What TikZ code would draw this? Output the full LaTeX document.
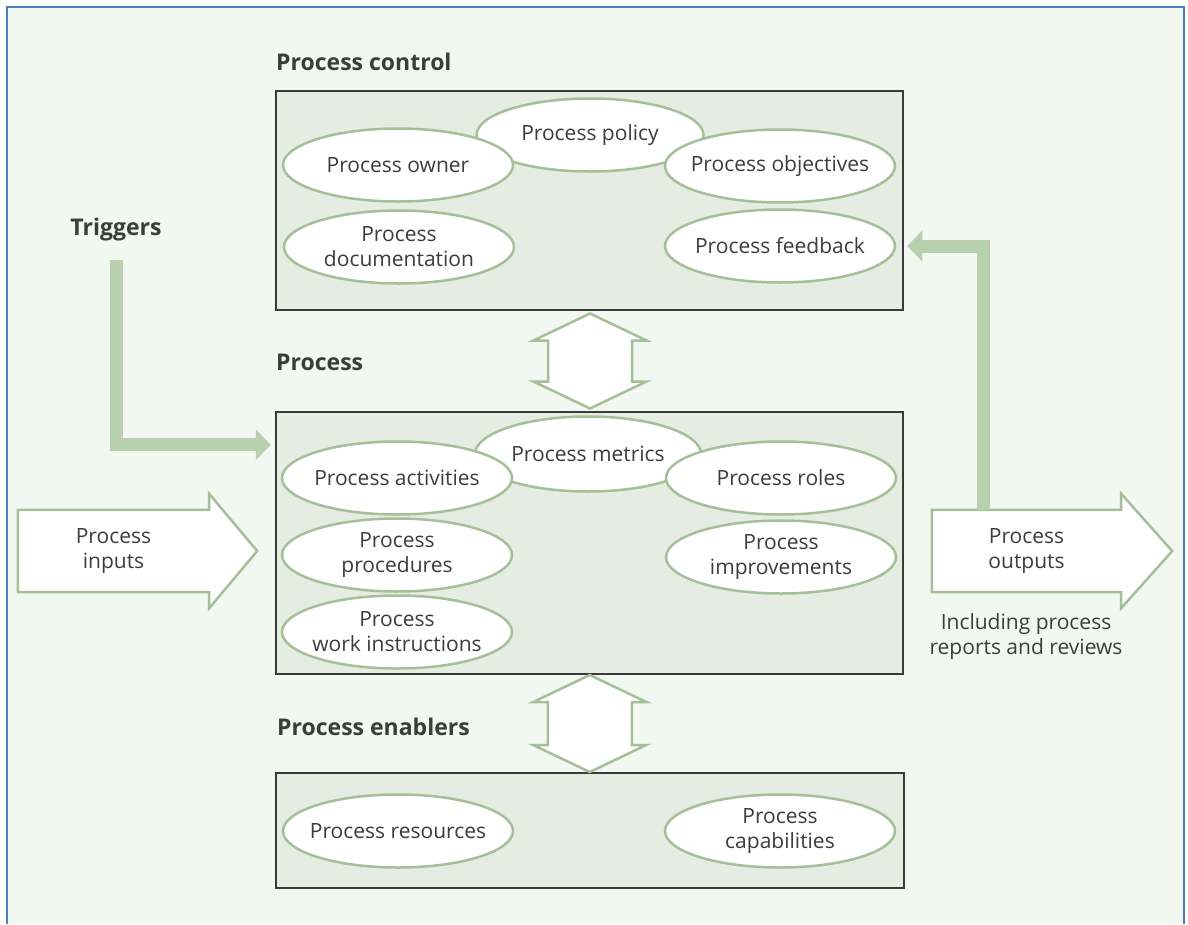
\documentclass[tikz,border=0pt]{standalone}
\usepackage{fontspec}
\setmainfont{Open Sans}
\usetikzlibrary{shapes.geometric,arrows.meta,calc,backgrounds}

\definecolor{pagebg}{HTML}{F2F7F1}
\definecolor{boxfill}{HTML}{E5EDE2}
\definecolor{boxline}{HTML}{3A3A3A}
\definecolor{ovalline}{HTML}{A5BF98}
\definecolor{flowgreen}{HTML}{B9D0AE}
\definecolor{txtgrey}{HTML}{3C3C3C}
\definecolor{framebl}{HTML}{4A7EBB}

\tikzset{
  panel/.style={draw=boxline,fill=boxfill,line width=2.5pt,inner sep=0pt},
  oval/.style={ellipse,draw=ovalline,fill=white,line width=2.5pt,minimum width=230pt,
    minimum height=73pt,inner xsep=-14pt,inner ysep=-10pt,align=center},
  heading/.style={anchor=west,font=\fontsize{23}{27}\selectfont\bfseries,inner sep=0pt},
  bigarrow/.style={draw=ovalline,fill=white,line width=2.5pt},
  flowline/.style={draw=flowgreen,line width=13pt,-{Triangle[width=30pt,length=15pt]}},
}

\begin{document}
\begin{tikzpicture}[x=1pt,y=-1pt,text=txtgrey,font=\fontsize{21}{25}\selectfont]
\useasboundingbox (0,0) rectangle (1188,924);
\begin{scope}[on background layer]
\fill[pagebg] (7,7) rectangle (1184,924);
\end{scope}
\draw[framebl,line width=2.5pt] (7,924) -- (7,7) -- (1184,7) -- (1184,924);

% headings
\node[heading] (hctl) at (276,62) {Process control};
\node[heading] (hproc) at (276,362) {Process};
\node[heading] (henab) at (277,727) {Process enablers};
\node[heading,anchor=center] (trig) at (116,230) {Triggers};

% panels
\node[panel,minimum width=627pt,minimum height=219pt] (ctl) at (589.5,200.5) {};
\node[panel,minimum width=627pt,minimum height=262pt] (proc) at (589.5,543) {};
\node[panel,minimum width=628pt,minimum height=115pt] (enab) at (590,830.5) {};

% process control
\node[oval,minimum width=227pt] (pol) at (590,135) {Process policy};
\node[oval] (own) at (398,165) {Process owner};
\node[oval] (obj) at (780,166) {Process objectives};
\node[oval] (doc) at (399,247) {Process\\documentation};
\node[oval] (fb) at (780,246) {Process feedback};

% process
\node[oval,minimum width=226pt,minimum height=75pt] (met) at (588,454) {Process metrics};
\node[oval] (act) at (397,478) {Process activities};
\node[oval] (rol) at (781,478) {Process roles};
\node[oval] (prc) at (397,555) {Process\\procedures};
\node[oval] (imp) at (781,557) {Process\\improvements};
\node[oval] (wrk) at (397,632) {Process\\work instructions};

% enablers
\node[oval] (res) at (398,831) {Process resources};
\node[oval] (cap) at (780,831) {Process\\capabilities};

% links between the panels
\coordinate (up) at ($(ctl.south)!.5!(proc.north)+(0.5,0)$);
\coordinate (dn) at ($(proc.south)!.5!(enab.north)$);
\draw[bigarrow,shift={(up)}] (0,-47.5) -- (56.5,-20.5) -- (42,-20.5) -- (42,20.5) -- (56.5,20.5)
  -- (0,47.5) -- (-56.5,20.5) -- (-42,20.5) -- (-42,-20.5) -- (-56.5,-20.5) -- cycle;
\draw[bigarrow,shift={(dn)}] (0,-48.5) -- (56.5,-21.5) -- (42,-21.5) -- (42,21.5) -- (56.5,21.5)
  -- (0,48.5) -- (-56.5,21.5) -- (-42,21.5) -- (-42,-21.5) -- (-56.5,-21.5) -- cycle;

% inputs and outputs
\node[minimum width=191pt,minimum height=82pt,align=center] (inp) at (113.5,551) {Process\\inputs};
\node[minimum width=189pt,minimum height=82pt,align=center] (outp) at (1026.5,551) {Process\\outputs};
\node[align=center] (incl) at (1026,637) {Including process\\reports and reviews};
\begin{scope}[on background layer]
\draw[bigarrow] (inp.north west) -- (inp.north east) -- ([yshift=16pt]inp.north east)
  -- ([xshift=48pt]inp.east) -- ([yshift=-16pt]inp.south east) -- (inp.south east)
  -- (inp.south west) -- cycle;
\draw[bigarrow] (outp.north west) -- (outp.north east) -- ([yshift=16pt]outp.north east)
  -- ([xshift=51pt]outp.east) -- ([yshift=-16pt]outp.south east) -- (outp.south east)
  -- (outp.south west) -- cycle;
\end{scope}

% triggers and feedback
\draw[flowline,shorten >=4pt] ([yshift=-30pt]trig.center) |- ([yshift=-34pt]proc.north west);
\draw[flowline,shorten >=3pt] ([xshift=-43.5pt]outp.north) |- (ctl.east |- fb.east);
\end{tikzpicture}
\end{document}
